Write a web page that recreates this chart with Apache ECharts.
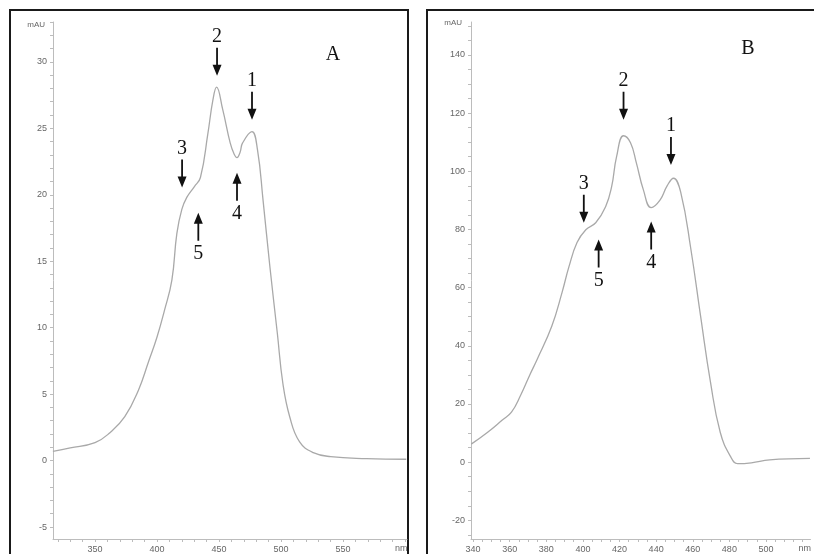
<!DOCTYPE html>
<html>
<head>
<meta charset="utf-8">
<script src="https://cdn.jsdelivr.net/npm/echarts@6/dist/echarts.min.js"></script>
<style>
html, body { margin: 0; padding: 0; background: #fff; }
#main { width: 814px; height: 554px; }
</style>
</head>
<body>
<div id="main"></div>
<script>
// 光谱 A
var waveA = [316, 330, 350, 362, 374, 385, 393, 400, 406, 412, 416, 420, 424, 430, 435, 441, 445, 448, 453, 459, 462, 464.5, 467, 469, 476.5, 481, 485.5, 491, 497, 501.5, 507, 515, 526, 540, 569, 601];
var absA = [0.7, 0.95, 1.35, 2.1, 3.3, 5.3, 7.4, 9.3, 11.3, 13.6, 17.1, 18.9, 19.8, 20.6, 21.3, 24.6, 27.1, 28.1, 26.4, 23.9, 23.1, 22.8, 23.2, 23.9, 24.75, 23.4, 19.6, 14.6, 9.6, 5.8, 3.3, 1.4, 0.6, 0.3, 0.15, 0.1];
// 光谱 B
var waveB = [339, 348, 356, 361, 366, 371, 375, 383, 388.6, 392.4, 396.8, 401.6, 407, 412.4, 415.7, 418.4, 422.2, 426, 429.2, 433, 437.3, 442.2, 446, 449.5, 453.5, 459, 464.3, 469.7, 475, 480.5, 484.5, 492, 502, 524];
var absB = [6.2, 10.3, 14.5, 17.2, 23, 30, 35.3, 46.7, 58.3, 67.2, 75.5, 79.9, 82.3, 87.8, 94.7, 105, 112.2, 109.8, 102.9, 93.7, 87.5, 90.2, 95, 97.6, 92.6, 73.1, 50.1, 27.4, 10.3, 2.1, -0.5, -0.2, 0.8, 1.3];

// 刻度
var xLabelsA = [350, 400, 450, 500, 550];
var yLabelsA = [-5, 0, 5, 10, 15, 20, 25, 30];
var xLabelsB = [340, 360, 380, 400, 420, 440, 460, 480, 500];
var yLabelsB = [-20, 0, 20, 40, 60, 80, 100, 120, 140];

// 峰标注 (编号, 波长, 值, 方向)
var peakNumA = ['2', '1', '3', '4', '5'];
var peakXA = [448.4, 476.6, 420.2, 464.5, 433.3];
var peakYA = [30.0, 26.7, 21.6, 20.6, 17.6];
var peakDirA = ['down', 'down', 'down', 'up', 'up'];
var peakNumB = ['2', '1', '3', '4', '5'];
var peakXB = [422.2, 448.1, 400.5, 437.3, 408.6];
var peakYB = [122.5, 107.0, 87.1, 77.9, 71.7];
var peakDirB = ['down', 'down', 'down', 'up', 'up'];

var arrowDown = 'path://M3.6,0 L5.4,0 L5.4,17 L9,17 L4.5,28 L0,17 L3.6,17 Z';
var arrowUp = 'path://M4.5,0 L9,11 L5.4,11 L5.4,28 L3.6,28 L3.6,11 L0,11 Z';

function range(a, b, step) {
    var arr = [];
    for (var v = a; v <= b + 1e-9; v += step) arr.push(v);
    return arr;
}

function zip(xs, ys) {
    var out = [];
    for (var i = 0; i < xs.length; i++) out.push([xs[i], ys[i]]);
    return out;
}

function peakMarks(nums, xs, ys, dirs) {
    var out = [];
    for (var i = 0; i < nums.length; i++) {
        var down = dirs[i] == 'down';
        out.push({
            name: nums[i],
            coord: [xs[i], ys[i]],
            symbol: down ? arrowDown : arrowUp,
            label: { position: down ? 'top' : 'bottom', distance: down ? 1 : 3 }
        });
    }
    return out;
}

var axisGrey = '#bcbcbc';
var labelStyle = { color: '#666', fontSize: 9, fontFamily: 'Liberation Sans', margin: 6 };

function xAxisOf(idx, min, max, labels, tickStep) {
    return {
        type: 'value', gridIndex: idx, min: min, max: max,
        name: 'nm', nameLocation: 'end', nameGap: -12,
        nameTextStyle: { color: '#666', fontSize: 9, fontFamily: 'Liberation Sans', align: 'left', verticalAlign: 'top', padding: [5, 0, 0, 0] },
        axisLine: { onZero: false, lineStyle: { color: axisGrey, width: 1 } },
        axisTick: { show: true, length: 3, customValues: range(Math.ceil(min / tickStep) * tickStep, max, tickStep), lineStyle: { color: axisGrey } },
        axisLabel: Object.assign({ customValues: labels }, labelStyle),
        splitLine: { show: false }
    };
}

function yAxisOf(idx, min, max, labels, tickStep) {
    return {
        type: 'value', gridIndex: idx, min: min, max: max,
        axisLine: { show: true, onZero: false, lineStyle: { color: axisGrey, width: 1 } },
        axisTick: { show: true, length: 3, customValues: range(Math.ceil(min / tickStep) * tickStep, max, tickStep), lineStyle: { color: axisGrey } },
        axisLabel: Object.assign({ customValues: labels }, labelStyle),
        splitLine: { show: false }
    };
}

var curveLine = { color: '#a9a9a9', width: 1.3 };
var markLabel = { show: true, formatter: '{b}', color: '#111', fontSize: 20, fontFamily: 'Liberation Serif' };

var myChart = echarts.init(document.getElementById('main'));
myChart.setOption({
    animation: false,
    backgroundColor: '#fff',
    grid: [
        { left: 53, top: 22, width: 354, height: 518 },
        { left: 471, top: 22, width: 343, height: 518 }
    ],
    xAxis: [
        xAxisOf(0, 316.1, 601.6, xLabelsA, 10),
        xAxisOf(1, 338.9, 524.3, xLabelsB, 5)
    ],
    yAxis: [
        yAxisOf(0, -5.9, 33.0, yLabelsA, 1),
        yAxisOf(1, -26.4, 151.3, yLabelsB, 5)
    ],
    series: [
        {
            type: 'line', xAxisIndex: 0, yAxisIndex: 0,
            data: zip(waveA, absA),
            smooth: 0.45, showSymbol: false,
            lineStyle: curveLine, itemStyle: { color: '#a9a9a9' },
            markPoint: {
                symbolSize: [9, 28],
                itemStyle: { color: '#111' },
                label: markLabel,
                data: peakMarks(peakNumA, peakXA, peakYA, peakDirA)
            }
        },
        {
            type: 'line', xAxisIndex: 1, yAxisIndex: 1,
            data: zip(waveB, absB),
            smooth: 0.45, showSymbol: false,
            lineStyle: curveLine, itemStyle: { color: '#a9a9a9' },
            markPoint: {
                symbolSize: [9, 28],
                itemStyle: { color: '#111' },
                label: markLabel,
                data: peakMarks(peakNumB, peakXB, peakYB, peakDirB)
            }
        }
    ],
    graphic: [
        { type: 'rect', shape: { x: 10, y: 10, width: 398, height: 570 }, style: { fill: 'none', stroke: '#1a1a1a', lineWidth: 2 } },
        { type: 'rect', shape: { x: 427, y: 10, width: 400, height: 570 }, style: { fill: 'none', stroke: '#1a1a1a', lineWidth: 2 } },
        { type: 'text', x: 45, y: 25, style: { text: 'mAU', fill: '#666', fontSize: 8, fontFamily: 'Liberation Sans', align: 'right', verticalAlign: 'middle' } },
        { type: 'text', x: 462, y: 23, style: { text: 'mAU', fill: '#666', fontSize: 8, fontFamily: 'Liberation Sans', align: 'right', verticalAlign: 'middle' } },
        { type: 'text', x: 333, y: 55, style: { text: 'A', fill: '#111', fontSize: 20, fontFamily: 'Liberation Serif', align: 'center', verticalAlign: 'middle' } },
        { type: 'text', x: 748, y: 49, style: { text: 'B', fill: '#111', fontSize: 20, fontFamily: 'Liberation Serif', align: 'center', verticalAlign: 'middle' } }
    ]
});
</script>
</body>
</html>
